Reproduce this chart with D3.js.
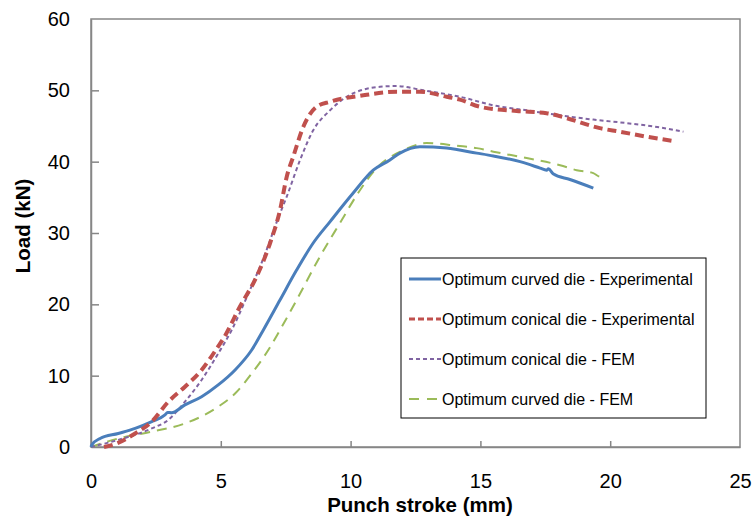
<!DOCTYPE html>
<html><head><meta charset="utf-8">
<script src="https://cdn.jsdelivr.net/npm/d3@7"></script>
<style>body{margin:0;background:#fff}svg{display:block}text{font-family:"Liberation Sans",Arial,sans-serif}</style>
</head><body><svg id="c" width="754" height="517"></svg>
<script>
const xTicks=[0,5,10,15,20,25];
const yTicks=[0,10,20,30,40,50,60];
const seriesNames=["Optimum curved die - Experimental","Optimum conical die - Experimental","Optimum conical die - FEM","Optimum curved die - FEM"];
const curvedExp=[[0,0],[0.03,0.3],[0.35,1.2],[1.05,1.9],[1.7,2.6],[2.34,3.55],[2.85,4.5],[2.95,4.85],[3.1,4.8],[3.62,5.9],[4.26,7.05],[4.9,8.7],[5.55,10.8],[6.19,13.6],[6.64,16.4],[7.28,20.6],[7.92,24.8],[8.56,28.6],[9.21,31.6],[10.1,35.6],[10.87,38.8],[11.5,40.2],[11.9,41.2],[12.67,42.1],[13.7,41.9],[14.86,41.2],[15.5,40.8],[16.53,40.0],[17.3,39.1],[17.55,38.8],[17.62,39.0],[17.8,38.3],[18.45,37.5],[19.35,36.3]];
const conicalExp=[[0.5,0],[0.99,0.5],[1.7,1.9],[2.34,3.55],[2.98,6.35],[3.62,8.45],[4.26,10.8],[4.9,14.1],[5.1,15.2],[5.74,19.7],[6.38,23.9],[6.9,28.6],[7.28,33.2],[7.54,37.9],[7.79,40.7],[8.18,44.9],[8.69,47.7],[9.21,48.4],[10.49,49.3],[11.78,49.8],[12.67,49.8],[13.7,49.1],[14.21,48.7],[14.98,47.7],[16.4,47.1],[17.55,46.8],[18.32,46.1],[19.6,44.7],[20.38,44.2],[21.4,43.5],[22.43,42.9]];
const conicalFem=[[0,0],[1.05,1.0],[2.34,2.6],[2.98,3.8],[3.62,6.35],[4.26,9.4],[4.9,13.1],[5.42,16.4],[6.0,21.0],[6.7,27.0],[7.2,32.0],[7.54,35.1],[8.05,40.2],[8.56,44.4],[9.21,47.2],[9.85,49.1],[11.13,50.5],[11.78,50.6],[12.8,50.0],[14.21,49.1],[15.5,47.9],[16.78,47.2],[18.07,46.5],[19.35,45.9],[20.64,45.4],[21.92,44.8],[22.82,44.2]];
const curvedFem=[[0,0],[1.05,1.2],[2.34,2.15],[3.62,3.3],[4.9,5.65],[5.55,7.5],[6.19,10.3],[6.83,13.6],[7.28,16.4],[7.92,20.6],[8.82,26.7],[9.59,31.4],[10.36,36.0],[11.0,39.1],[12.03,41.6],[12.93,42.6],[13.96,42.3],[14.86,41.9],[15.5,41.4],[16.78,40.5],[18.07,39.5],[18.71,38.8],[19.35,38.4],[19.6,37.9],[19.8,38.0]];
const colors=["#4a7ebb","#c0504d","#8064a2","#9bbb59"];
const widths=[3,4,2,2];
const dashes=[null,"9,5","4,3","10,7"];
const data=[curvedExp,conicalExp,conicalFem,curvedFem];

const svg=d3.select("#c");
const L=91,R=740,T=19,B=447;
const x=d3.scaleLinear().domain([0,25]).range([L,R]);
const y=d3.scaleLinear().domain([0,60]).range([B,T]);
const axisCol="#868686";

svg.append("rect").attr("x",L).attr("y",T).attr("width",R-L).attr("height",B-T).attr("fill","none").attr("stroke",axisCol).attr("stroke-width",1.5);

const xa=svg.append("g").attr("transform",`translate(0,${B})`).call(d3.axisBottom(x).tickValues(xTicks).tickSizeInner(-6).tickSizeOuter(0).tickPadding(27).tickFormat(d3.format("d")));
const ya=svg.append("g").attr("transform",`translate(${L},0)`).call(d3.axisLeft(y).tickValues(yTicks).tickSizeInner(-8).tickSizeOuter(0).tickPadding(21).tickFormat(d3.format("d")));
[xa,ya].forEach(g=>{g.select(".domain").attr("stroke",axisCol).attr("stroke-width",1.5);g.selectAll(".tick line").attr("stroke",axisCol).attr("stroke-width",1.5);g.selectAll(".tick text").attr("fill","#000").style("font-size","20px").style("font-family","'Liberation Sans',Arial,sans-serif");});
xa.selectAll(".tick").filter(d=>d===0||d===25).select("line").remove();
ya.selectAll(".tick").filter(d=>d===0||d===60).select("line").remove();

svg.append("text").attr("x",420).attr("y",512).attr("text-anchor","middle").style("font-size","20.5px").style("font-weight","bold").text("Punch stroke (mm)");
svg.append("text").attr("transform","translate(30,226) rotate(-90)").attr("text-anchor","middle").style("font-size","20.5px").style("font-weight","bold").text("Load (kN)");

const line=d3.line().x(d=>x(d[0])).y(d=>y(d[1])).curve(d3.curveMonotoneX);
const order=[3,2,0,1];
order.forEach(i=>{
  const p=svg.append("path").datum(data[i]).attr("d",line).attr("fill","none").attr("stroke",colors[i]).attr("stroke-width",widths[i]).attr("stroke-linejoin","round");
  if(dashes[i])p.attr("stroke-dasharray",dashes[i]);
});

const lg=svg.append("g");
lg.append("rect").attr("x",401).attr("y",258).attr("width",305).attr("height",160).attr("fill","#fff").attr("stroke","#000").attr("stroke-width",1);
seriesNames.forEach((n,i)=>{
  const yy=279+i*40;
  const l=lg.append("line").attr("x1",409).attr("x2",441).attr("y1",yy).attr("y2",yy).attr("stroke",colors[i]).attr("stroke-width",i===1?3:widths[i]);
  if(i===1)l.attr("stroke-dasharray","6,3");
  if(i===2)l.attr("stroke-dasharray","4,3");
  if(i===3)l.attr("stroke-dasharray","10,8");
  lg.append("text").attr("x",442).attr("y",yy+6).style("font-size","16px").attr("fill","#000").text(n);
});
</script></body></html>
